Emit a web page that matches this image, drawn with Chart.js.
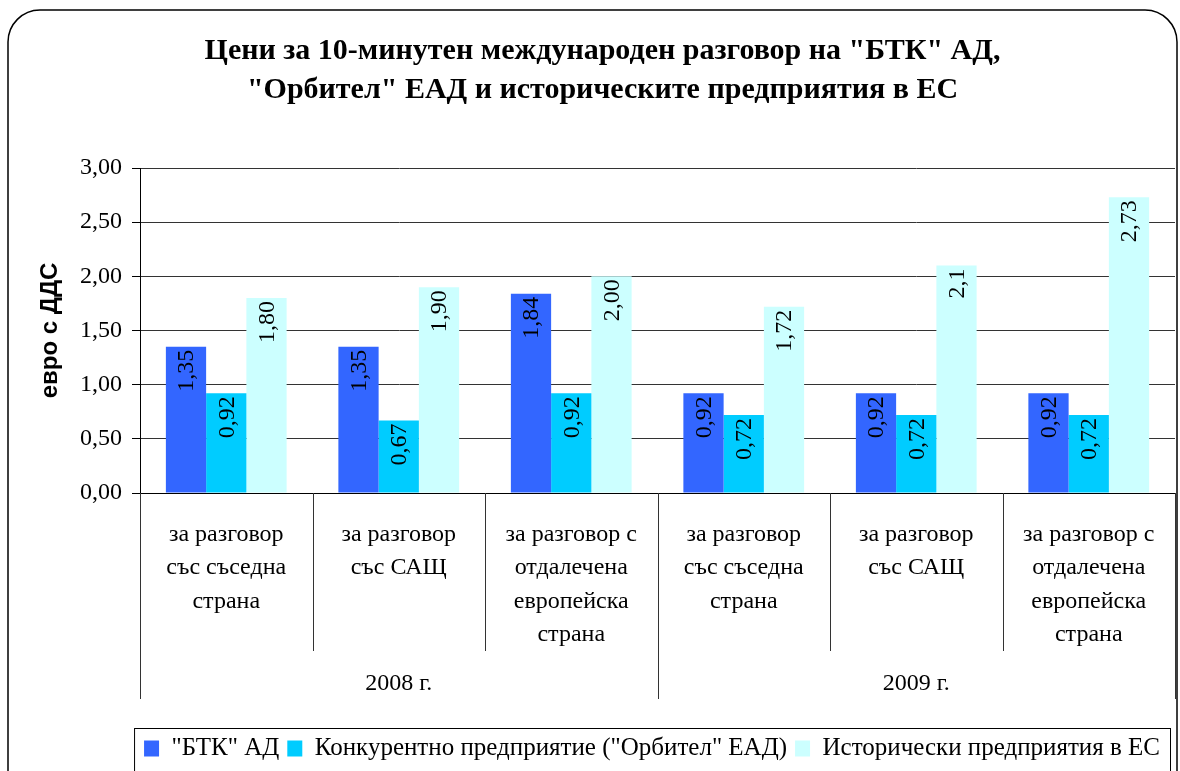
<!DOCTYPE html>
<html>
<head>
<meta charset="utf-8">
<script src="https://cdn.jsdelivr.net/npm/chart.js@4.4.1/dist/chart.umd.min.js"></script>
<style>
  html, body { margin: 0; padding: 0; background: #fff; }
  #wrap { position: relative; width: 1180px; height: 771px; overflow: hidden; }
</style>
</head>
<body>
<div id="wrap"><canvas id="chart" width="1180" height="771"></canvas></div>
<script>
// categories (two-level x axis)
const categories = [
  ["за разговор", "със съседна", "страна"],
  ["за разговор", "със САЩ"],
  ["за разговор с", "отдалечена", "европейска", "страна"],
  ["за разговор", "със съседна", "страна"],
  ["за разговор", "със САЩ"],
  ["за разговор с", "отдалечена", "европейска", "страна"]
];
const years = ["2008 г.", "2009 г."];
const perYear = 3;

// series
const seriesNames = ["\"БТК\" АД", "Конкурентно предприятие (\"Орбител\" ЕАД)", "Исторически предприятия в ЕС"];
const btkValues = [1.35, 1.35, 1.84, 0.92, 0.92, 0.92];
const orbitelValues = [0.92, 0.67, 0.92, 0.72, 0.72, 0.72];
const euValues = [1.80, 1.90, 2.00, 1.72, 2.10, 2.73];

// labels as printed on the bars
const btkLabels = ["1,35", "1,35", "1,84", "0,92", "0,92", "0,92"];
const orbitelLabels = ["0,92", "0,67", "0,92", "0,72", "0,72", "0,72"];
const euLabels = ["1,80", "1,90", "2,00", "1,72", "2,1", "2,73"];

const yTicks = [0, 0.5, 1, 1.5, 2, 2.5, 3];

const serif = "'Liberation Serif', 'Times New Roman', serif";
const sans = "'Liberation Sans', Arial, sans-serif";

// outer rounded frame + legend box
const framePlugin = {
  id: "frame",
  afterLayout(chart) {
    // legend sits a bit left of the plot's right edge
    chart.legend.left -= 7;
    chart.legend.right -= 7;
  },
  beforeDraw(chart) {
    const ctx = chart.ctx;
    ctx.save();
    ctx.fillStyle = "#fff";
    ctx.fillRect(0, 0, chart.width, chart.height);
    ctx.strokeStyle = "#000";
    ctx.lineWidth = 1.5;
    const x = 8, y = 10, w = 1169, h = 820, r = 32;
    ctx.beginPath();
    ctx.moveTo(x, y + h);
    ctx.lineTo(x, y + r);
    ctx.arcTo(x, y, x + r, y, r);
    ctx.lineTo(x + w - r, y);
    ctx.arcTo(x + w, y, x + w, y + r, r);
    ctx.lineTo(x + w, y + h);
    ctx.stroke();
    ctx.restore();
  },
  afterDraw(chart) {
    const lg = chart.legend;
    if (!lg || !lg.legendHitBoxes.length) return;
    const boxes = lg.legendHitBoxes;
    const left = Math.min(...boxes.map(b => b.left)) - 10;
    const right = Math.max(...boxes.map(b => b.left + b.width)) + 10;
    const ctx = chart.ctx;
    ctx.save();
    ctx.strokeStyle = "#000";
    ctx.lineWidth = 1;
    ctx.strokeRect(left + 0.5, lg.top + 0.5, right - left, 80);
    ctx.restore();
  }
};

// separators for the two-level category axis
const groupPlugin = {
  id: "groups",
  afterDraw(chart) {
    const xs = chart.scales.x;
    const ys = chart.scales.year;
    const area = chart.chartArea;
    const step = (xs.getPixelForValue(1) - xs.getPixelForValue(0));
    const ctx = chart.ctx;
    ctx.save();
    ctx.strokeStyle = "#333";
    ctx.lineWidth = 1;
    for (let i = 0; i <= categories.length; i++) {
      const px = Math.round(xs.getPixelForValue(0) - step / 2 + i * step) + 0.5;
      const bottom = (i % perYear === 0) ? ys.top + 48 : xs.bottom;
      ctx.beginPath();
      ctx.moveTo(px, area.bottom);
      ctx.lineTo(px, bottom);
      ctx.stroke();
    }
    ctx.restore();
  }
};

// rotated value labels inside the top of each bar
const labelSets = [btkLabels, orbitelLabels, euLabels];
const valueLabelPlugin = {
  id: "valueLabels",
  afterDatasetsDraw(chart) {
    const ctx = chart.ctx;
    ctx.save();
    ctx.fillStyle = "#000";
    ctx.font = "24px " + serif;
    ctx.textAlign = "right";
    ctx.textBaseline = "middle";
    chart.data.datasets.forEach((ds, di) => {
      const meta = chart.getDatasetMeta(di);
      meta.data.forEach((bar, i) => {
        ctx.save();
        ctx.translate(bar.x + 1, bar.y + 3);
        ctx.rotate(-Math.PI / 2);
        ctx.fillText(labelSets[di][i], 0, 0);
        ctx.restore();
      });
    });
    ctx.restore();
  }
};

let graph = new Chart(document.getElementById("chart"), {
  type: "bar",
  data: {
    labels: categories,
    datasets: [
      { label: seriesNames[0], data: btkValues, backgroundColor: "#3366FF" },
      { label: seriesNames[1], data: orbitelValues, backgroundColor: "#00CCFF" },
      { label: seriesNames[2], data: euValues, backgroundColor: "#CCFFFF" }
    ]
  },
  options: {
    responsive: false,
    animation: false,
    layout: { padding: { top: 10, left: 30, right: 5, bottom: 0 } },
    datasets: { bar: { categoryPercentage: 0.7, barPercentage: 1.0 } },
    plugins: {
      title: {
        display: true,
        text: ["Цени за 10-минутен международен разговор на \"БТК\" АД,",
               "\"Орбител\" ЕАД и историческите предприятия в ЕС"],
        color: "#000",
        font: { family: serif, size: 30, weight: "bold", lineHeight: 1.3 },
        padding: { top: 22, bottom: 58 }
      },
      legend: {
        position: "bottom",
        align: "end",
        labels: {
          color: "#000",
          font: { family: serif, size: 25 },
          boxWidth: 15,
          boxHeight: 16,
          padding: 8
        }
      },
      tooltip: { enabled: false }
    },
    scales: {
      x: {
        weight: 0,
        grid: { display: false },
        border: { display: true, color: "#000", width: 1 },
        ticks: {
          color: "#000",
          font: { family: serif, size: 24, lineHeight: 1.39 },
          padding: 17,
          maxRotation: 0,
          autoSkip: false
        },
        afterFit: (scale) => { scale.height = 158; }
      },
      year: {
        type: "category",
        labels: years,
        position: "bottom",
        weight: 1,
        offset: true,
        grid: { display: false },
        border: { display: false },
        ticks: {
          color: "#000",
          font: { family: serif, size: 24 },
          padding: 10
        },
        afterFit: (scale) => { scale.height = 77; }
      },
      y: {
        min: 0,
        max: 3,
        afterBuildTicks: (scale) => { scale.ticks = yTicks.map(v => ({ value: v })); },
        grid: { color: "#333", lineWidth: 1, tickLength: 8, tickColor: "#000" },
        border: { display: true, color: "#000", width: 1 },
        ticks: {
          color: "#000",
          font: { family: serif, size: 24 },
          padding: 10,
          callback: (v) => v.toFixed(2).replace(".", ",")
        },
        title: {
          display: true,
          text: "евро с ДДС",
          color: "#000",
          font: { family: sans, size: 24, weight: "bold" },
          padding: { top: 6 }
        },
        afterFit: (scale) => { scale.width = 110; }
      }
    }
  },
  plugins: [framePlugin, groupPlugin, valueLabelPlugin]
});
</script>
</body>
</html>
